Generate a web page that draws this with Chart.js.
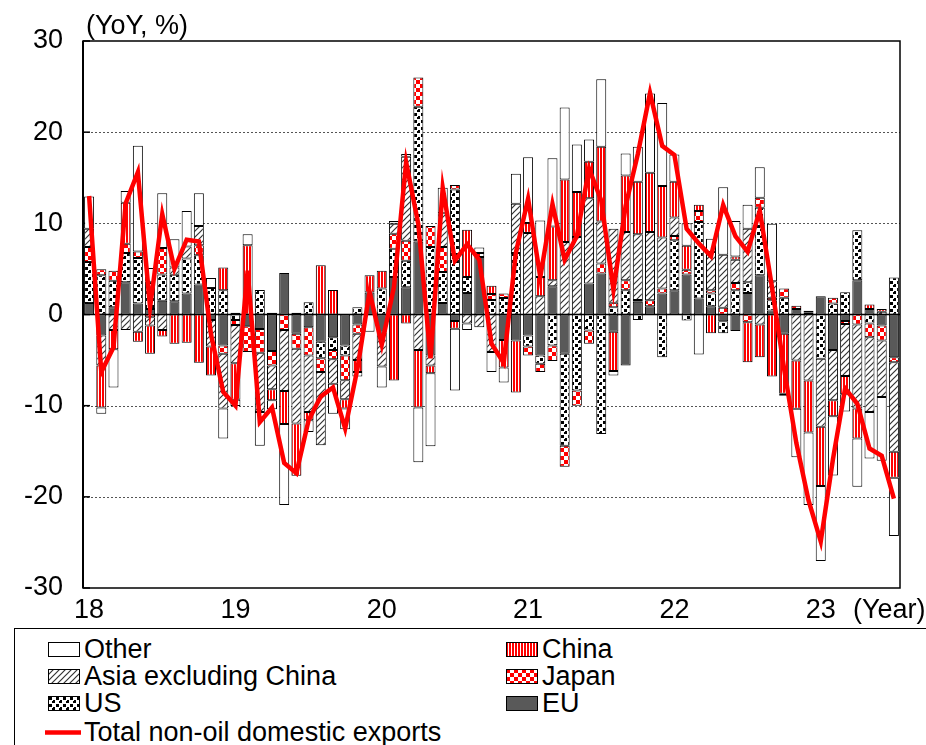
<!DOCTYPE html>
<html>
<head>
<meta charset="utf-8">
<script src="https://cdn.jsdelivr.net/npm/chart.js@4/dist/chart.umd.min.js"></script>
<style>
  html, body { margin: 0; padding: 0; background: #fff; overflow: hidden; }
  body { width: 926px; height: 745px; position: relative; font-family: "Liberation Sans", Arial, sans-serif; color: #000; }
  #chart { position: absolute; left: 0; top: 0; }
  .txt { position: absolute; font-size: 27px; line-height: 30px; white-space: nowrap; }
  #legend { position: absolute; left: 14px; top: 628px; width: 940px; height: 160px;
            border-top: 1px solid #000; border-left: 1px solid #000; }
  .sw { position: absolute; }
</style>
</head>
<body>
<canvas id="chart" width="926" height="628"></canvas>
<div class="txt" style="left:86px; top:10px;">(YoY, %)</div>
<div class="txt" style="left:853px; top:594px;">(Year)</div>
<div id="legend"></div>
<script>
// Contributions to year-on-year growth of non-oil domestic exports, by market (% points)
const startYear = 2018;
const eu = [1.25,-2.3,0.8,3.55,1.2,0.6,1.5,1.45,2.3,3.3,-0.6,
  -3.4,0.2,-1.3,-1.6,-4.0,4.55,-2.1,-1.4,-3.0,-2.5,-3.4,
  -1.1,2.4,-2.0,4.1,3.0,8.0,-4.5,1.25,-0.7,2.35,6.3,
  0,-2.8,-2.85,-2.3,-4.5,3.1,-4.3,0,3.4,4.5,-1.9,
  -5.6,1.4,0.9,2.3,2.65,4.4,1.75,0.9,-0.75,-1.8,2.35,
  4.3,0.45,-2.1,0.6,0.2,2.0,-3.9,-0.7,3.75,0.6,-1.2,-4.7];
const us = [4.5,4.3,2.9,3.2,5.0,3.0,2.9,2.9,3.85,3.2,2.9,
  2.65,-0.6,0,2.7,0.2,0,0.2,1.35,-1.8,-1.4,-1.1,
  0.8,0,2.85,3.1,2.9,14.8,7.4,3.4,13.7,1.75,0,
  1.6,1.8,6.75,-1.2,-0.9,-3.4,-10.1,-8.35,-1.75,-13.1,0.8,
  2.65,-0.6,0,-4.7,5.5,-0.65,8.4,1.4,-1.3,2.65,1.2,
  7.4,1.1,1.85,0,0,-4.85,1.2,2.45,5.5,-1.0,0.3,4.05];
const japan = [1.65,0.65,1.1,1.0,0.7,-0.3,2.9,0,0,1.1,0,
  -0.9,-0.55,-2.8,-2.6,-1.6,-1.7,-1.65,-3.1,-1.5,-1.0,-2.7,
  -1.0,0,0,1.65,2.2,3.2,2.3,2.75,0.5,0,0.45,
  0.65,0.5,0,-1.0,-0.9,-1.7,-2.3,-1.65,-1.45,1.1,0.5,
  1.1,0.2,0.65,0.55,0.45,0.5,1.2,0.35,0.75,0.8,-0.85,
  1.1,0.3,1.0,0.35,0.2,0,0.65,-0.35,-1.1,-1.5,-1.65,-0.55];
const asiaExChina = [2.0,-3.3,-1.7,-1.7,-1.9,-0.9,-1.7,0.8,1.3,2.1,-2.9,
  -6.0,-4.2,0,-6.5,-2.6,-6.7,-8.2,-6.2,-8.05,-2.7,-2.1,
  -2.9,0,-3.7,1.1,9.2,-3.9,-1.1,3.7,0,-1.0,-1.4,
  -4.1,0,5.4,8.95,2.0,0.65,7.95,8.5,9.35,4.6,8.1,
  5.3,7.2,7.5,5.6,2.05,0,0,4.2,5.8,2.55,5.85,
  -1.1,1.8,0,-5.05,-7.25,-7.45,-5.5,-5.7,-9.2,-8.2,-6.2,-9.8];
const china = [0,-4.6,-2.1,4.5,-1.1,-3.1,-0.7,-3.2,-3.1,-5.3,-3.2,
  2.5,-4.0,7.6,0,-1.2,-3.6,-5.75,-0.9,5.4,2.7,-1.0,
  -1.3,1.9,1.95,-7.25,-1.0,-6.3,-0.85,0,-0.85,5.2,0,
  0.9,-3.0,-5.7,1.1,2.1,5.9,6.85,4.95,4.0,8.2,-4.3,
  6.2,5.75,6.5,5.65,3.9,2.65,0.7,-2.05,0,0.35,-4.4,
  -3.6,-6.8,-6.6,-5.3,-5.7,-6.5,-1.75,-2.0,-3.3,0.5,0.3,-2.85];
const other = [3.55,-0.7,-4.2,1.3,11.6,1.5,6.0,3.1,3.9,3.6,1.1,
  -3.3,-0.7,1.2,-3.7,-1.0,-8.9,0,-1.3,0,-3.3,-2.3,
  -0.5,-1.9,-2.3,0.3,0.3,-6.0,-8.0,2.8,-6.8,-0.7,0.6,
  -2.2,-1.65,3.3,7.2,6.2,7.5,7.9,5.2,2.45,7.4,-0.5,
  2.4,3.85,8.7,9.1,3.0,2.45,-4.4,1.45,7.4,3.9,2.65,
  3.35,6.3,-0.2,-5.3,-7.95,-8.25,-6.5,-1.9,-5.3,-5.1,-7.0,-6.4];
const total = [13.0,-6.3,-3.6,12.2,15.6,0.8,11.0,5.0,8.2,8.0,-2.2,
  -8.5,-10.0,4.8,-11.8,-10.2,-16.3,-17.4,-11.6,-9.0,-8.0,-12.5,
  -6.0,2.5,-3.3,3.0,16.7,9.9,-4.8,13.9,5.9,7.7,6.0,
  -3.2,-5.3,6.8,12.7,4.1,12.1,6.0,8.6,16.0,12.5,2.7,
  11.9,17.6,24.3,18.5,17.5,9.4,7.8,6.4,12.0,8.6,6.9,
  11.4,3.0,-6.0,-14.1,-20.4,-24.9,-15.9,-8.1,-9.8,-14.7,-15.5,-20.2];
const yTicks = [30, 20, 10, 0, -10, -20, -30];
const gridValues = [20, 10, -10, -20];

// Month categories; the axis shows a two-digit year under each January
const months = eu.map((_, i) => {
  const y = startYear + Math.floor(i / 12);
  const m = (i % 12) + 1;
  return y + '-' + String(m).padStart(2, '0');
});

// Fill patterns for the market series
function makePattern(kind, targetCtx) {
  const c = document.createElement('canvas');
  const g = c.getContext('2d');
  if (kind === 'stripes') {
    c.width = 3; c.height = 4;
    g.fillStyle = '#fff'; g.fillRect(0, 0, 3, 4);
    g.fillStyle = '#ff0000'; g.fillRect(0, 0, 2, 4);
  } else if (kind === 'hatch') {
    c.width = 6; c.height = 6;
    g.fillStyle = '#fff'; g.fillRect(0, 0, 6, 6);
    g.strokeStyle = '#333'; g.lineWidth = 1.2;
    g.beginPath();
    g.moveTo(0, 6); g.lineTo(6, 0);
    g.moveTo(-1, 1); g.lineTo(1, -1);
    g.moveTo(5, 7); g.lineTo(7, 5);
    g.stroke();
  } else if (kind === 'checker') {
    c.width = 8; c.height = 8;
    g.fillStyle = '#fff'; g.fillRect(0, 0, 8, 8);
    g.fillStyle = '#ff0000'; g.fillRect(0, 0, 4, 4); g.fillRect(4, 4, 4, 4);
  } else if (kind === 'dots') {
    c.width = 7; c.height = 7;
    g.fillStyle = '#fff'; g.fillRect(0, 0, 7, 7);
    g.fillStyle = '#000'; g.fillRect(1, 1, 3, 3); g.fillRect(4, 4, 3, 3);
    g.fillStyle = '#fff'; g.fillRect(4, 4, 1, 1);
  }
  const ctx = targetCtx || document.getElementById('chart').getContext('2d');
  return ctx.createPattern(c, 'repeat');
}

const fills = {
  other: '#ffffff',
  china: makePattern('stripes'),
  asia: makePattern('hatch'),
  japan: makePattern('checker'),
  us: makePattern('dots'),
  eu: '#595959'
};

function barSet(label, data, fill) {
  return {
    type: 'bar', label, data, backgroundColor: fill,
    borderColor: '#000', borderWidth: 1, borderSkipped: false,
    stack: 'markets', order: 1,
    barPercentage: 0.82, categoryPercentage: 1.0
  };
}

const FONT = { family: '"Liberation Sans", Arial, sans-serif', size: 27 };

const gridPlugin = {
  id: 'plotFrame',
  beforeDatasetsDraw(chart) {
    const { ctx, chartArea: a, scales: { y } } = chart;
    ctx.save();
    ctx.strokeStyle = '#555'; ctx.lineWidth = 1; ctx.setLineDash([2, 2]);
    gridValues.forEach(v => {
      const py = Math.round(y.getPixelForValue(v)) + 0.5;
      ctx.beginPath(); ctx.moveTo(a.left, py); ctx.lineTo(a.right, py); ctx.stroke();
    });
    ctx.setLineDash([]);
    ctx.strokeStyle = '#000'; ctx.lineWidth = 1.5;
    const z = y.getPixelForValue(0);
    ctx.beginPath(); ctx.moveTo(a.left, z); ctx.lineTo(a.right, z); ctx.stroke();
    yTicks.forEach(v => {
      const py = y.getPixelForValue(v);
      ctx.beginPath(); ctx.moveTo(a.left, py); ctx.lineTo(a.left + 7, py); ctx.stroke();
    });
    ctx.restore();
  },
  afterDraw(chart) {
    const { ctx, chartArea: a } = chart;
    ctx.save();
    ctx.strokeStyle = '#000'; ctx.lineWidth = 1.5;
    ctx.strokeRect(a.left, a.top, a.right - a.left, a.bottom - a.top);
    ctx.lineWidth = 2;
    ctx.beginPath(); ctx.moveTo(a.left, a.top); ctx.lineTo(a.left, a.bottom); ctx.stroke();
    ctx.restore();
  }
};

new Chart(document.getElementById('chart'), {
  data: {
    labels: months,
    datasets: [
      barSet('EU', eu, fills.eu),
      barSet('US', us, fills.us),
      barSet('Japan', japan, fills.japan),
      barSet('Asia excluding China', asiaExChina, fills.asia),
      barSet('China', china, fills.china),
      barSet('Other', other, fills.other),
      {
        type: 'line', label: 'Total non-oil domestic exports', data: total,
        borderColor: '#ff0000', borderWidth: 4.5, pointRadius: 0, tension: 0,
        fill: false, stack: 'total', order: 0, borderJoinStyle: 'miter'
      }
    ]
  },
  options: {
    responsive: false,
    devicePixelRatio: 1,
    animation: false,
    layout: { padding: { top: 41, right: 26, left: 0, bottom: 0 } },
    plugins: { legend: { display: false }, tooltip: { enabled: false } },
    scales: {
      x: {
        stacked: true, offset: true,
        grid: { display: false, drawTicks: false },
        border: { display: false },
        ticks: {
          autoSkip: false, maxRotation: 0, minRotation: 0, padding: 6,
          color: '#000', font: FONT,
          callback: (v, i) => (i % 12 === 0 ? String((startYear + i / 12) % 100) : '')
        },
        afterFit: s => { s.height = 40; }
      },
      y: {
        stacked: true, min: -30, max: 30,
        grid: { display: false, drawTicks: false },
        border: { display: false },
        ticks: { stepSize: 10, padding: 20, color: '#000', font: FONT },
        afterFit: s => { s.width = 83; }
      }
    }
  },
  plugins: [gridPlugin]
});

// Legend: two columns of market swatches, then the total line
const legendItems = [
  { label: 'Other', fill: 'other', x: 33, row: 0 },
  { label: 'China', fill: 'stripes', x: 491, row: 0 },
  { label: 'Asia excluding China', fill: 'hatch', x: 33, row: 1 },
  { label: 'Japan', fill: 'checker', x: 491, row: 1 },
  { label: 'US', fill: 'dots', x: 33, row: 2 },
  { label: 'EU', fill: 'eu', x: 491, row: 2 },
  { label: 'Total non-oil domestic exports', line: '#ff0000', x: 30, row: 3 }
];
const rowCenters = [20, 47, 74, 103];
const legend = document.getElementById('legend');
legendItems.forEach(it => {
  const cy = rowCenters[it.row];
  const sw = document.createElement('canvas');
  sw.className = 'sw';
  sw.width = it.line ? 36 : 32; sw.height = 15;
  sw.style.left = it.x + 'px';
  sw.style.top = (cy - 7) + 'px';
  const g = sw.getContext('2d');
  if (it.line) {
    g.strokeStyle = it.line; g.lineWidth = 4.5;
    g.beginPath(); g.moveTo(0, 7.5); g.lineTo(36, 7.5); g.stroke();
  } else {
    if (it.fill === 'other') g.fillStyle = fills.other;
    else if (it.fill === 'eu') g.fillStyle = fills.eu;
    else g.fillStyle = makePattern(it.fill, g);
    g.fillRect(0.5, 0.5, 31, 14);
    g.strokeStyle = '#000'; g.lineWidth = 1;
    g.strokeRect(0.5, 0.5, 31, 14);
  }
  legend.appendChild(sw);
  const t = document.createElement('div');
  t.className = 'txt';
  t.textContent = it.label;
  t.style.left = (it.x + (it.line ? 39 : 36)) + 'px';
  t.style.top = (cy - 15) + 'px';
  legend.appendChild(t);
});
</script>
</body>
</html>
